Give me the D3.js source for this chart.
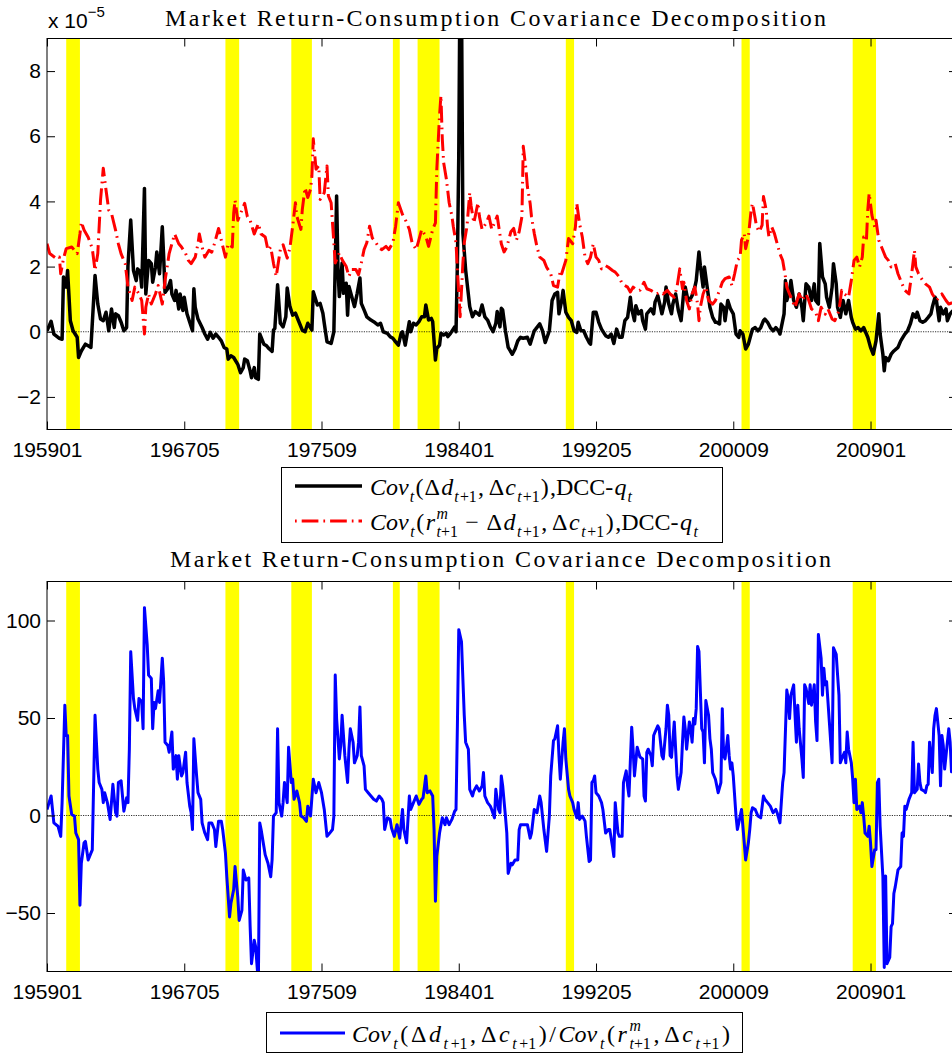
<!DOCTYPE html>
<html>
<head>
<meta charset="utf-8">
<script src="https://cdn.jsdelivr.net/npm/d3@7"></script>
<style>
  body { margin: 0; background: #fff; }
  svg { display: block; }
</style>
</head>
<body>
<svg id="fig" width="952" height="1055"></svg>
<script>
// ---- data (x = months since 1959:01) ----
const xTickMonths = [0, 100, 200, 300, 400, 500, 600];
const topTicks = [-2, 0, 2, 4, 6, 8];
const bottomTicks = [-50, 0, 50, 100];
const titleText = "Market Return-Consumption Covariance Decomposition";

// shaded recession periods, [first month, last month] as YYYYMM
const recessions = [[196003, 196101], [196911, 197009], [197311, 197502], [198001, 198006],
                    [198107, 198211], [199007, 199101], [200103, 200109], [200712, 200905]];

// Cov_t(Δd, Δc), DCC-q_t  (units of 1e-5)
const divCov = [[0,0.03],[3,0.32],[5,-0.07],[9,-0.2],[11,-0.23],[12,1.68],[14,1.37],[15,1.88],[17,0.34],[19,0.03],[22,-0.17],[23,-0.79],[25,-0.59],[28,-0.38],[30,-0.43],[32,-0.48],[35,1.73],[37,0.85],[39,0.39],[41,0.34],[43,0.6],[45,0.03],[47,0.7],[49,0.13],[50,0.55],[52,0.49],[54,0.29],[56,0.03],[58,0.13],[59,2.04],[61,3.43],[63,1.88],[65,1.57],[66,1.93],[68,1.83],[69,1.37],[71,4.4],[72,1.16],[74,2.19],[76,2.09],[77,1.52],[79,1.98],[80,2.45],[82,1.78],[84,3.22],[85,2.29],[86,1.21],[88,1.32],[90,1.57],[91,1.16],[93,0.96],[94,1.27],[96,0.7],[97,1.16],[99,0.65],[100,1.06],[102,0.55],[104,0.29],[106,0.03],[107,1.32],[108,0.75],[110,0.39],[113,0.13],[115,-0.07],[117,-0.23],[119,-0.02],[121,-0.2],[123,-0.07],[125,-0.17],[127,-0.28],[129,-0.48],[131,-0.53],[132,-0.84],[134,-0.74],[136,-0.79],[139,-1.0],[141,-1.26],[143,-1.1],[144,-0.84],[146,-0.89],[148,-1.2],[149,-1.41],[151,-1.1],[152,-1.41],[154,-1.46],[155,-0.07],[158,-0.38],[160,-0.43],[162,-0.53],[164,-0.6],[165,0.05],[166,0.1],[168,1.44],[170,0.26],[172,0.15],[174,0.46],[175,1.34],[177,0.77],[179,0.51],[181,0.57],[183,0.36],[186,0.05],[188,0.0],[190,0.26],[193,0.05],[194,1.23],[197,0.82],[199,0.87],[201,0.57],[202,0.26],[204,-0.31],[207,-0.36],[209,0.0],[211,4.17],[212,1.9],[213,1.08],[215,2.11],[216,1.18],[218,1.49],[219,0.51],[220,1.39],[222,1.08],[224,0.77],[226,1.18],[228,1.65],[229,0.87],[231,0.67],[233,0.46],[236,0.36],[238,0.31],[241,0.21],[243,0.26],[245,0.0],[248,-0.05],[250,-0.15],[252,-0.2],[254,-0.31],[256,-0.41],[258,-0.05],[259,0.0],[261,-0.41],[264,0.31],[265,0.0],[267,0.26],[269,0.21],[271,0.31],[273,0.46],[275,0.46],[276,0.82],[278,0.36],[280,0.41],[281,0.31],[283,-0.87],[284,-0.51],[286,-0.41],[287,-0.05],[289,-0.1],[291,-0.05],[292,-0.15],[294,-0.05],[297,0.15],[298,0.0],[299,2.11],[300,5.4],[301,11.5],[302,10.2],[303,3.03],[305,1.9],[308,0.77],[310,0.46],[312,0.62],[315,0.51],[317,0.82],[319,0.46],[321,0.36],[323,0.15],[325,0.0],[327,0.26],[328,0.62],[330,0.15],[331,0.72],[332,0.67],[334,0.03],[336,-0.48],[339,-0.69],[341,-0.53],[343,-0.28],[345,-0.17],[347,-0.2],[350,-0.17],[352,-0.38],[355,0.03],[356,0.08],[359,0.24],[361,0.03],[363,-0.33],[366,0.03],[368,0.96],[370,1.16],[372,1.21],[373,0.55],[375,0.96],[376,1.27],[378,0.6],[380,0.44],[382,0.34],[384,0.03],[386,-0.02],[387,0.29],[389,0.03],[391,0.03],[393,-0.17],[395,-0.33],[396,-0.38],[398,0.6],[400,0.6],[402,0.29],[404,0.08],[407,-0.12],[409,-0.17],[411,-0.07],[413,-0.36],[415,0.08],[417,-0.17],[419,-0.17],[421,0.34],[423,0.44],[425,1.06],[426,0.7],[428,0.34],[429,0.8],[431,0.55],[433,0.65],[434,0.34],[436,0.08],[437,0.55],[440,0.7],[442,0.55],[443,0.91],[445,1.11],[447,0.75],[448,0.55],[450,0.91],[451,1.37],[453,0.85],[455,0.55],[456,0.85],[458,1.16],[460,0.65],[462,0.34],[464,1.27],[465,1.37],[467,0.96],[468,0.96],[470,1.11],[472,1.37],[473,1.57],[475,2.45],[476,2.04],[478,1.37],[479,1.99],[481,1.37],[483,0.75],[485,0.44],[487,0.29],[488,0.29],[490,0.24],[491,0.85],[493,0.75],[494,0.34],[496,0.96],[498,0.7],[500,0.55],[502,-0.07],[504,-0.17],[505,0.03],[507,-0.07],[509,-0.53],[511,-0.38],[513,-0.07],[514,0.08],[516,0.13],[518,0.03],[520,0.13],[522,0.34],[523,0.39],[525,0.29],[527,0.13],[529,0.03],[531,0.13],[533,0.03],[534,-0.07],[536,0.34],[537,0.55],[538,1.57],[539,0.96],[541,1.27],[542,1.57],[544,0.96],[546,0.75],[548,1.16],[550,0.75],[551,0.34],[553,1.47],[555,1.37],[557,0.96],[559,1.47],[560,0.96],[562,0.85],[563,2.71],[565,1.68],[567,1.47],[568,1.06],[570,0.75],[572,1.37],[573,2.09],[575,1.47],[576,0.75],[578,0.44],[580,0.96],[582,0.55],[584,0.96],[586,0.44],[587,0.29],[589,0.08],[591,0.13],[593,0.03],[595,0.13],[597,-0.07],[598,-0.17],[600,-0.48],[602,-0.69],[604,-0.28],[606,0.55],[607,-0.07],[609,-0.69],[610,-1.2],[611,-0.79],[613,-0.89],[615,-0.69],[617,-0.59],[620,-0.48],[622,-0.28],[625,-0.07],[627,0.03],[629,0.24],[631,0.55],[633,0.44],[634,0.6],[636,0.34],[638,0.29],[640,0.34],[642,0.44],[644,0.55],[645,0.75],[647,1.06],[648,0.96],[650,0.34],[651,0.75],[653,0.55],[655,0.7],[656,0.34],[658,0.55],[660,0.65]];

// Cov_t(r^m - Δd, Δc), DCC-q_t  (units of 1e-5)
const exCov = [[0,2.7],[2,2.4],[7,2.24],[9,2.29],[10,1.78],[12,2.24],[14,2.55],[18,2.6],[22,2.4],[24,3.0],[25,3.37],[27,3.12],[30,2.9],[33,2.55],[35,1.88],[37,2.4],[39,4.04],[41,5.02],[43,4.35],[45,3.73],[47,3.63],[50,3.11],[52,2.7],[54,2.39],[57,2.09],[59,1.37],[62,0.96],[64,1.37],[67,1.16],[69,0.96],[71,-0.07],[72,0.75],[74,1.16],[76,0.85],[79,1.16],[81,1.42],[84,0.85],[86,1.57],[89,2.4],[91,2.7],[93,3.0],[96,2.7],[98,2.6],[101,2.4],[103,2.19],[105,2.09],[108,2.29],[110,2.7],[111,3.0],[113,2.6],[115,2.29],[118,2.5],[120,2.44],[122,2.7],[125,3.17],[127,2.81],[130,2.29],[132,2.7],[135,2.6],[136,3.63],[137,4.04],[139,3.42],[142,3.73],[144,3.94],[146,3.53],[148,3.42],[151,3.0],[154,3.32],[156,3.0],[159,2.91],[161,2.5],[163,2.6],[165,2.1],[167,1.7],[170,2.52],[172,2.67],[175,2.26],[177,2.57],[179,3.24],[181,3.96],[182,3.55],[185,3.14],[186,3.75],[188,4.42],[190,4.12],[192,4.37],[193,4.78],[194,5.92],[196,4.99],[198,5.09],[199,4.06],[202,4.27],[204,5.09],[205,4.17],[207,3.96],[209,2.73],[210,2.11],[213,2.42],[215,2.21],[218,2.0],[220,1.7],[222,1.91],[225,1.91],[227,1.75],[229,2.11],[231,2.52],[233,2.73],[235,3.24],[237,2.88],[239,2.78],[242,2.57],[244,2.52],[247,2.62],[249,2.52],[252,2.73],[254,3.24],[256,3.96],[259,3.6],[261,3.45],[264,3.14],[266,2.73],[269,2.52],[271,2.83],[273,3.14],[276,2.93],[278,2.62],[281,3.14],[283,3.34],[284,4.99],[286,6.64],[287,7.25],[288,5.92],[289,5.19],[291,4.68],[293,3.96],[295,3.55],[296,3.24],[298,2.73],[299,1.9],[301,0.46],[303,2.11],[304,2.73],[306,3.24],[308,4.27],[309,3.86],[311,3.34],[314,3.96],[315,3.55],[317,3.14],[320,3.34],[322,3.55],[324,3.14],[326,3.34],[328,3.55],[331,2.7],[333,2.45],[335,2.6],[338,3.07],[340,3.17],[342,2.81],[344,3.07],[346,3.53],[347,5.69],[349,4.97],[350,4.45],[352,3.94],[353,3.53],[355,3.02],[357,2.6],[359,2.29],[362,2.19],[364,1.98],[367,1.78],[369,1.42],[372,1.37],[374,1.88],[375,1.78],[378,2.19],[380,2.86],[381,2.81],[383,2.7],[385,3.22],[386,3.94],[388,3.32],[390,2.91],[392,2.29],[394,2.09],[396,2.29],[398,2.7],[400,2.29],[402,2.19],[404,1.93],[407,2.03],[409,1.98],[412,1.88],[414,1.83],[417,1.68],[419,1.47],[421,1.42],[423,1.37],[425,1.22],[427,1.37],[430,1.27],[432,1.27],[435,1.52],[437,1.32],[440,1.27],[442,1.22],[444,1.16],[447,1.22],[449,1.16],[452,1.27],[454,1.16],[457,1.06],[459,1.37],[461,1.93],[463,1.32],[464,1.52],[466,0.96],[468,0.7],[470,1.16],[472,1.37],[474,0.85],[475,0.34],[476,0.75],[478,1.16],[480,1.37],[482,0.96],[485,0.85],[487,0.96],[490,1.27],[492,1.52],[494,1.63],[497,1.68],[499,1.42],[501,1.78],[503,2.19],[505,2.29],[506,2.81],[508,3.01],[509,2.55],[511,2.91],[513,3.73],[514,3.94],[516,3.47],[517,3.22],[519,3.07],[521,3.27],[522,4.15],[524,3.73],[525,3.22],[526,2.91],[528,3.22],[530,3.01],[532,2.7],[534,2.39],[536,2.19],[538,1.68],[539,1.37],[541,1.16],[543,0.96],[545,0.75],[548,1.16],[550,0.96],[553,1.16],[555,0.96],[557,0.7],[560,0.6],[562,0.34],[564,0.75],[567,0.54],[569,0.7],[572,0.39],[574,0.34],[577,0.65],[579,1.27],[581,1.16],[584,1.06],[586,1.57],[588,2.19],[590,2.29],[592,1.99],[594,2.29],[595,2.91],[597,2.81],[598,3.73],[599,4.25],[601,3.58],[603,3.22],[604,3.42],[606,2.81],[608,2.6],[611,2.29],[613,2.19],[615,1.99],[618,2.09],[620,1.78],[623,1.47],[625,1.27],[628,1.16],[630,1.78],[632,2.5],[633,1.99],[635,1.78],[638,1.57],[640,1.47],[643,1.37],[645,1.16],[648,0.96],[650,1.06],[652,1.16],[655,0.96],[657,0.85],[660,0.9]];

// Cov_t(Δd, Δc) / Cov_t(r^m, Δc)
const ratio = [[0,3.1],[3,10],[5,-3.8],[8,-5.5],[10,-10.7],[11,6.6],[13,56.6],[14,41],[15,41],[16,10],[18,0.5],[20,-0.3],[21,-9],[23,-12.4],[24,-46],[25,-24.5],[27,-14],[28,-13.3],[30,-22.8],[32,-19.3],[33,-17.6],[35,51.4],[37,23.8],[38,16.9],[40,13.4],[41,6.6],[42,11.7],[44,6.6],[46,-2],[48,16],[50,1.4],[51,-0.3],[52,16.9],[54,17.8],[56,2.2],[58,9.1],[59,6.6],[60,34],[61,84],[63,60],[64,54.8],[66,48.8],[67,60],[69,58.3],[70,44.5],[71,106.6],[73,87.6],[74,72],[76,70.3],[77,44.5],[78,58],[79,54.8],[81,64],[82,58],[84,80.7],[85,68.6],[86,37.6],[88,35.9],[89,32.4],[91,42.8],[92,23.8],[94,30.7],[95,18.6],[96,30.7],[98,20.3],[99,22],[101,32.4],[102,16.9],[104,4.8],[105,1.4],[106,-7.2],[107,39.3],[109,20.3],[110,11.7],[112,8.3],[113,-3.8],[115,-9],[117,-12.4],[118,-3.8],[120,-3.8],[122,-7.2],[123,-15.9],[125,-2.9],[127,-2.9],[128,-7.2],[130,-19.3],[131,-31.4],[133,-52],[134,-45],[136,-38],[137,-26.2],[139,-41.7],[140,-53.8],[142,-48.6],[143,-28],[145,-33.1],[147,-32],[148,-57],[149,-76],[151,-64],[152,-67.2],[154,-86],[155,-3.8],[156,-7.2],[158,-15.9],[159,-20.2],[161,-24.5],[163,-31.4],[164,-22.8],[165,-0.3],[167,1.4],[168,44.5],[169,6.6],[171,-0.3],[172,6.6],[173,16.9],[175,6.6],[176,35],[178,16.9],[179,18.6],[180,8.3],[182,12.6],[184,6.6],[185,-0.3],[187,-1.2],[189,-3],[190,4.8],[192,-0.3],[194,18.6],[196,11.7],[198,16.9],[200,11.7],[202,3.1],[204,-10.7],[206,-9],[208,-7.2],[209,-0.3],[210,72],[211,49.7],[213,29],[214,35.9],[215,51.4],[217,30.7],[219,16.9],[220,34],[221,44.5],[223,37.6],[224,27],[226,30.7],[227,37.6],[228,55.7],[229,30.7],[231,25.5],[232,13.4],[234,11.7],[236,10],[238,8.3],[240,7.4],[242,10],[244,8.3],[245,6.6],[246,-7.2],[248,-1.2],[250,-2],[251,-6.4],[253,-10.7],[255,-4.7],[257,-11.6],[259,3.1],[260,-7.2],[262,-14],[264,10],[265,3.1],[267,6.6],[269,10],[271,5.7],[273,8.3],[274,9.1],[276,20.3],[277,11.7],[279,12.6],[281,10],[282,-7.2],[283,-44],[284,-21],[286,-9],[288,-1.2],[290,-4.7],[291,-1.2],[293,-4.7],[295,-2],[297,2.2],[298,3.1],[299,46],[300,95.3],[302,89],[304,51.4],[305,37.6],[307,34],[308,13.4],[310,10],[311,12.6],[313,15.2],[315,12.6],[317,15.2],[318,22],[319,10],[321,6.6],[323,4.8],[324,3.1],[326,-1.2],[327,13.4],[329,3.1],[330,1.4],[331,20.3],[332,15.2],[334,-0.3],[335,-9],[336,-29.7],[338,-24.5],[339,-25.3],[341,-22.8],[343,-22.8],[344,-7.2],[345,-4.7],[347,-4.7],[350,-4.7],[352,-11.6],[353,-9],[355,3.1],[357,1.4],[359,10],[360,6.6],[362,-7.2],[364,-18.4],[366,-0.3],[367,20.3],[369,38.4],[370,39.3],[372,46],[373,30.7],[374,18.6],[376,37.6],[377,44.5],[378,29],[380,13.4],[381,10],[383,6.6],[384,3.1],[386,-1.2],[387,6.6],[388,-2],[390,-0.3],[392,-2.9],[393,-10.7],[395,-23.6],[396,-22.8],[397,16.9],[398,17.8],[399,20.3],[400,11.7],[402,10],[404,6.6],[405,3.1],[407,-9],[409,-7.2],[410,-7.2],[412,-15.9],[413,-21],[414,6.6],[416,-9],[417,-10.7],[419,-10.7],[420,16.9],[422,22.9],[423,15.2],[424,10],[426,45.3],[427,34],[428,20.3],[430,35],[432,30],[434,29],[435,10],[436,7.4],[437,32.4],[438,34],[440,30.7],[441,25.5],[442,41],[443,42.8],[445,46],[446,44.5],[448,30.7],[449,29],[451,44.5],[452,56.6],[453,51.4],[454,30.7],[455,29.8],[457,48],[458,34],[459,20.3],[460,13.4],[462,22],[463,37.6],[464,50.5],[465,44.5],[466,34],[468,48],[469,44.5],[470,37.6],[471,49.7],[472,46.9],[473,54.8],[474,86.7],[475,84.1],[477,44.5],[478,42.8],[479,27],[480,59],[482,51.4],[483,39.3],[484,34],[485,22],[487,18.6],[488,15.2],[489,11.7],[491,16.9],[492,54.8],[493,30.7],[494,29],[496,41],[497,30.7],[498,23.8],[499,27],[500,20.3],[502,-0.3],[503,-7.2],[504,-3.8],[506,3.1],[507,-5.5],[509,-22.8],[511,-14],[512,-7.2],[513,1.4],[514,4],[516,3.1],[518,-0.3],[520,-1.2],[522,10],[523,8.3],[525,6.6],[527,4.8],[529,1.4],[531,3.1],[532,1.4],[534,-3.8],[535,6.6],[536,16.9],[537,22],[539,64.3],[540,59.9],[541,49.7],[542,61.7],[544,67],[545,51.4],[546,37.6],[547,56.6],[548,44.5],[550,29],[551,19.5],[552,67],[553,65.2],[555,57.4],[556,67],[557,56.6],[559,67],[560,48],[561,38.4],[562,92.8],[564,80.7],[565,61.7],[566,75.5],[567,67],[568,68.6],[570,48],[571,37.6],[572,27],[573,86],[575,82.6],[576,72],[577,61.7],[578,27],[579,29],[581,32.4],[582,27],[583,42.8],[584,34],[586,27],[587,18.6],[588,6.6],[589,18.6],[590,3.1],[592,4.8],[593,1.4],[594,6.6],[595,-0.3],[596,-9],[598,-10.7],[599,-5.5],[600,-14],[601,-26.2],[603,-17.6],[604,-17.6],[605,16.9],[606,18.6],[607,-5.5],[609,-31.4],[610,-78],[611,-31],[612,-76],[614,-72.8],[615,-57],[616,-55.5],[617,-40],[618,-36.6],[620,-27.9],[621,-27],[622,-26.2],[623,-9],[624,-10.7],[625,4.8],[626,3.1],[628,8.3],[629,10],[630,11.7],[631,37.6],[632,11.7],[634,13.4],[635,26.4],[636,16.9],[637,13.4],[639,12.6],[640,11.7],[641,15.2],[642,16],[643,37.6],[645,22],[646,44.5],[647,51.4],[648,54.8],[650,41],[651,15.2],[652,41],[653,35.9],[654,23.8],[656,37.6],[657,44.5],[658,37.6],[659,22.4],[660,30]];

// ---- helpers ----
const ym = v => (Math.floor(v / 100) - 1959) * 12 + (v % 100 - 1);
const monthLabel = m => {
  const yr = 1959 + Math.floor(m / 12), mo = (m % 12) + 1;
  return `${yr}${String(mo).padStart(2, "0")}`;
};

const svg = d3.select("#fig");
const SANS = "'Liberation Sans', Arial, Helvetica, sans-serif";
const SERIF = "'Liberation Serif', 'Times New Roman', serif";

const x = d3.scaleLinear().domain([0, 663]).range([47, 957]);

// Lay out a small math expression piece by piece, spreading any spare
// room between pieces so the expression spans `span` pixels.
function mathText(g, x0, y0, parts, S, span) {
  const boxes = [];
  const make = (t, type) => {
    const sub = type === "sb" || type === "si";
    const sup = type === "sp";
    const el = g.append("text")
      .attr("y", y0 + (sub ? 0.3 * S : sup ? -0.45 * S : 0))
      .attr("font-size", (sub || sup) ? 0.66 * S : S)
      .attr("font-style", (type === "i" || type === "si" || type === "sp") ? "italic" : "normal")
      .style("white-space", "pre")
      .text(t);
    return { el, w: el.node().getComputedTextLength() };
  };
  parts.forEach(p => {
    if (p.stack) {
      const rows = p.stack.map(row => {
        let w = 0;
        const items = row.map(([t, ty]) => { const b = make(t, ty); const o = { el: b.el, off: w }; w += b.w; return o; });
        return { items, w };
      });
      boxes.push({ items: rows.flatMap(r => r.items), w: Math.max(...rows.map(r => r.w)) });
    } else {
      const b = make(p[0], p[1]);
      boxes.push({ items: [{ el: b.el, off: 0 }], w: b.w });
    }
  });
  const natural = d3.sum(boxes, b => b.w);
  const gap = span ? Math.max(0, (span - natural) / (boxes.length - 1)) : 0;
  let cx = x0;
  boxes.forEach(b => {
    b.items.forEach(it => it.el.attr("x", cx + it.off));
    cx += b.w + gap;
  });
}

const tp1 = [["t", "si"], ["+1", "sb"]];
const covT = [["Cov", "i"], ["t", "si"], ["(", "n"]];
const ddPart = [["\u0394", "n"], ["d", "i"], ...tp1];
const dcPart = [[",\u2009\u0394", "n"], ["c", "i"], ...tp1, [")", "n"]];
const rmPart = [["r", "i"], { stack: [[["m", "sp"]], tp1] }];
const dccPart = [[",DCC-", "n"], ["q", "i"], ["t", "si"]];

const exprDiv = [...covT, ...ddPart, ...dcPart, ...dccPart];
const exprEx = [...covT, ...rmPart, [" \u2212 ", "n"], ...ddPart, ...dcPart, ...dccPart];
const exprRatio = [...covT, ...ddPart, ...dcPart, ["/", "n"], ...covT, ...rmPart, ...dcPart];

function drawPanel(cfg) {
  const y = d3.scaleLinear().domain(cfg.domain).range([cfg.bottom, cfg.top]);
  const g = svg.append("g");
  const clipId = "clip-" + cfg.id;
  svg.append("clipPath").attr("id", clipId)
    .append("rect").attr("x", x.range()[0]).attr("y", cfg.top)
    .attr("width", x.range()[1] - x.range()[0]).attr("height", cfg.bottom - cfg.top);

  const plot = g.append("g").attr("clip-path", `url(#${clipId})`);

  // recession shading
  plot.selectAll("rect.rec").data(recessions).join("rect")
    .attr("class", "rec")
    .attr("x", d => x(ym(d[0])))
    .attr("width", d => x(ym(d[1])) - x(ym(d[0])))
    .attr("y", cfg.top).attr("height", cfg.bottom - cfg.top)
    .attr("fill", "#ffff00");

  // zero reference
  plot.append("line")
    .attr("x1", x.range()[0]).attr("x2", x.range()[1])
    .attr("y1", y(0)).attr("y2", y(0))
    .attr("stroke", "#000").attr("stroke-width", 0.8)
    .attr("stroke-dasharray", "1.2,1.2");

  const line = d3.line().x(d => x(d[0])).y(d => y(d[1]));
  cfg.series.forEach(s => {
    plot.append("path").datum(s.data)
      .attr("d", line)
      .attr("fill", "none")
      .attr("stroke", s.color)
      .attr("stroke-width", s.width)
      .attr("stroke-linejoin", "round")
      .attr("stroke-dasharray", s.dash || null);
  });

  // axes (ticks point inward on all four sides)
  const styleAxis = a => a.attr("font-size", 21).attr("font-family", SANS)
    .call(s => s.select(".domain").remove());

  g.append("g").attr("transform", `translate(0,${cfg.bottom})`)
    .call(d3.axisBottom(x).tickValues(xTickMonths).tickFormat(monthLabel)
      .tickSizeInner(-8).tickSizeOuter(0).tickPadding(13))
    .call(styleAxis);
  g.append("g").attr("transform", `translate(0,${cfg.top})`)
    .call(d3.axisTop(x).tickValues(xTickMonths).tickFormat("")
      .tickSizeInner(-8).tickSizeOuter(0))
    .call(styleAxis);
  g.append("g").attr("transform", `translate(${x.range()[0]},0)`)
    .call(d3.axisLeft(y).tickValues(cfg.ticks).tickFormat(d3.format("d"))
      .tickSizeInner(-8).tickSizeOuter(0).tickPadding(6))
    .call(styleAxis);
  g.append("g").attr("transform", `translate(${x.range()[1]},0)`)
    .call(d3.axisRight(y).tickValues(cfg.ticks).tickFormat("")
      .tickSizeInner(-8).tickSizeOuter(0))
    .call(styleAxis);

  g.append("rect")
    .attr("x", x.range()[0]).attr("y", cfg.top)
    .attr("width", x.range()[1] - x.range()[0]).attr("height", cfg.bottom - cfg.top)
    .attr("fill", "none").attr("stroke", "#000").attr("stroke-width", 1);

  // title
  svg.append("text")
    .attr("x", cfg.titleX).attr("y", cfg.titleY)
    .attr("font-family", SERIF).attr("font-size", 24)
    .attr("textLength", cfg.titleW).attr("lengthAdjust", "spacing")
    .text(titleText);
  return y;
}

// ---- top panel ----
drawPanel({
  id: "top", top: 38.5, bottom: 429.5, domain: [-3, 9], ticks: topTicks,
  titleX: 165, titleY: 26, titleW: 661,
  series: [
    { data: divCov, color: "#000", width: 3.5 },
    { data: exCov, color: "#ff0000", width: 3, dash: "16.7,5,1.7,5" }
  ]
});

// exponent label
svg.append("text").attr("x", 48).attr("y", 28)
  .attr("font-family", SANS).attr("font-size", 21)
  .text("x 10")
  .append("tspan").attr("dy", -11).attr("font-size", 15).text("\u22125");

// ---- bottom panel ----
drawPanel({
  id: "bottom", top: 581.5, bottom: 971.5, domain: [-80, 120], ticks: bottomTicks,
  titleX: 170, titleY: 567, titleW: 661,
  series: [{ data: ratio, color: "#0000ff", width: 3 }]
});

// ---- legends ----
function legend(box, rows) {
  const g = svg.append("g");
  g.append("rect").attr("x", box[0] + 0.5).attr("y", box[1] + 0.5)
    .attr("width", box[2] - box[0]).attr("height", box[3] - box[1])
    .attr("fill", "#fff").attr("stroke", "#000").attr("stroke-width", 1);
  const tg = g.append("g").attr("font-family", SERIF).attr("fill", "#000");
  rows.forEach(r => {
    g.append("line")
      .attr("x1", r.x1).attr("x2", r.x2).attr("y1", r.y).attr("y2", r.y)
      .attr("stroke", r.color).attr("stroke-width", r.width)
      .attr("stroke-dasharray", r.dash || null);
    mathText(tg, r.tx, r.y + 9, r.expr, 24, r.span);
  });
}

legend([281, 467, 722, 542], [
  { x1: 295, x2: 362, y: 486, color: "#000", width: 3.5, tx: 370, span: 262, expr: exprDiv },
  { x1: 295, x2: 362, y: 521, color: "#ff0000", width: 3, dash: "1.7,5,16.7,5", tx: 370, span: 328, expr: exprEx }
]);
legend([266, 1012, 742, 1052], [
  { x1: 280, x2: 345, y: 1033, color: "#0000ff", width: 3, tx: 352, span: 378, expr: exprRatio }
]);
</script>
</body>
</html>
